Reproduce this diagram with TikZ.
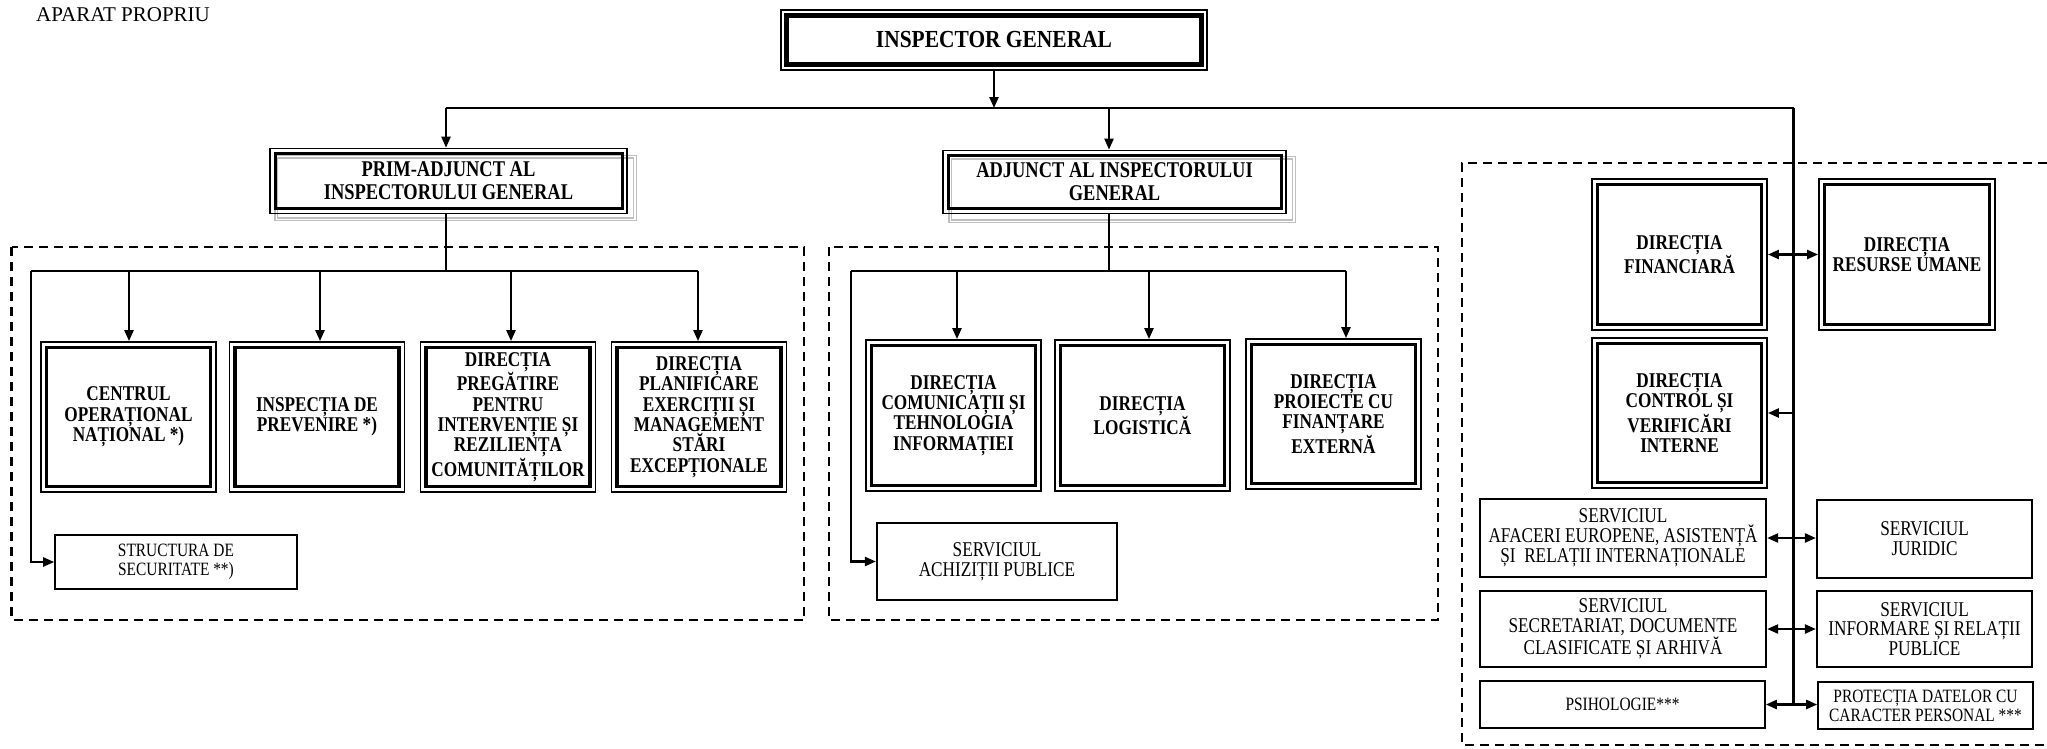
\documentclass[tikz,border=0pt]{standalone}
\usepackage{fontspec}
\setmainfont{Liberation Serif}
\newfontfamily\bxfam[FakeStretch=0.82]{Liberation Serif}
\newfontfamily\bxgfam[FakeStretch=0.875]{Liberation Serif}
\usetikzlibrary{arrows.meta,backgrounds}
\newcommand\myB{\bxfam\bfseries\fontsize{21}{20.3}\selectfont}
\newcommand\myT{\bxfam\bfseries\fontsize{22.5}{23}\selectfont}
\newcommand\myG{\bxgfam\bfseries\fontsize{24.5}{26}\selectfont}
\newcommand\myN{\bxfam\fontsize{21}{19.8}\selectfont}
\newcommand\myS{\bxfam\fontsize{18.8}{19}\selectfont}
\begin{document}
\begin{tikzpicture}[x=1pt,y=-1pt,
  every node/.style={inner sep=0pt, align=center},
  frame/.style n args={3}{draw, line width=#1,
    path picture={\draw[line width=#2]
      ([shift={(#3,-#3)}]path picture bounding box.north west) rectangle
      ([shift={(-#3,#3)}]path picture bounding box.south east);}},
  tbox/.style={frame={1.8}{3.2}{5.5pt}, font=\myB, minimum width=175pt, minimum height=150pt},
  sbox/.style={draw, line width=2.2, font=\myN},
  smallbox/.style={draw, line width=1.6, font=\myS},
  conn/.style={line width=2.3},
  arr/.style={conn, -{Triangle[length=11pt,width=9pt]}},
  darr/.style={conn, {Triangle[length=11pt,width=9pt]}-{Triangle[length=11pt,width=9pt]}},
  dashbox/.style={line width=2.4, dash pattern=on 9pt off 6pt},
  shd/.style={draw=gray!50, line width=1.3, double=white, double distance=1.3}
]
\begin{pgfonlayer}{background}
\fill[white] (0,0) rectangle (2047,748);
\end{pgfonlayer}
\useasboundingbox (0,0) rectangle (2047,748);

% dashed groups
\draw[dashbox] (11.5,247) rectangle (804,620);
\draw[dashbox] (829,247) rectangle (1438,620);
\draw[dashbox] (2047,163) -- (1462,163) -- (1462,745) -- (2047,745);

\node[anchor=base west, font=\fontsize{21}{21}\selectfont] (AP) at (36,21) {APARAT PROPRIU};

% top
\node[frame={1.5}{4.5}{5.5pt}, font=\myG, minimum width=426pt, minimum height=60pt] (IG) at (994,40) {INSPECTOR GENERAL};
\node[frame={1.7}{3}{5pt}, font=\myT, minimum width=357pt, minimum height=65pt] (PRIM) at (448.5,181) {PRIM-ADJUNCT AL\\INSPECTORULUI GENERAL};
\node[frame={1.7}{3}{5pt}, font=\myT, minimum width=343pt, minimum height=63pt] (ADJ) at (1114.5,182) {ADJUNCT AL INSPECTORULUI\\GENERAL};
\begin{pgfonlayer}{background}
\draw[shd] ([shift={(7,9)}]PRIM.north west) rectangle ([shift={(7,5)}]PRIM.south east);
\draw[shd] ([shift={(8,8)}]ADJ.north west) rectangle ([shift={(7,7)}]ADJ.south east);
\end{pgfonlayer}

% left group
\node[tbox] (L1) at (128.5,417) {CENTRUL\\OPERAȚIONAL\\NAȚIONAL *)};
\node[tbox] (L2) at (317,417) {INSPECȚIA DE\\PREVENIRE *)};
\node[tbox] (L3) at (508,417) {DIRECȚIA\\PREGĂTIRE\\PENTRU\\INTERVENȚIE ȘI\\REZILIENȚA\\COMUNITĂȚILOR};
\node[tbox] (L4) at (699,417) {DIRECȚIA\\PLANIFICARE\\EXERCIȚII ȘI\\MANAGEMENT\\STĂRI\\EXCEPȚIONALE};
\node[smallbox, minimum width=242pt, minimum height=54pt] (STR) at (176,562) {STRUCTURA DE\\SECURITATE **)};

% middle group
\node[tbox, minimum height=151pt] (M1) at (953.5,415.5) {DIRECȚIA\\COMUNICAȚII ȘI\\TEHNOLOGIA\\INFORMAȚIEI};
\node[tbox, minimum height=151pt] (M2) at (1142.5,415.5) {DIRECȚIA\\LOGISTICĂ};
\node[tbox] (M3) at (1333.5,414) {DIRECȚIA\\PROIECTE CU\\FINANȚARE\\EXTERNĂ};
\node[sbox, minimum width=240pt, minimum height=77pt] (ACH) at (997,561.5) {SERVICIUL\\ACHIZIȚII PUBLICE};

% right group
\node[tbox, minimum height=151pt] (FIN) at (1679.5,254.5) {DIRECȚIA\\FINANCIARĂ};
\node[tbox, minimum width=176pt, minimum height=151pt] (RU) at (1907,254.5) {DIRECȚIA\\RESURSE UMANE};
\node[tbox] (CTL) at (1679.5,413) {DIRECȚIA\\CONTROL ȘI\\VERIFICĂRI\\INTERNE};
\node[sbox, minimum width=286pt, minimum height=78pt] (AFE) at (1623,538) {SERVICIUL\\AFACERI EUROPENE, ASISTENȚĂ\\ȘI\ \ RELAȚII INTERNAȚIONALE};
\node[sbox, minimum width=215pt, minimum height=78pt] (JUR) at (1924.5,539) {SERVICIUL\\JURIDIC};
\node[sbox, minimum width=286pt, minimum height=76pt] (SEC) at (1623,629) {SERVICIUL\\SECRETARIAT, DOCUMENTE\\CLASIFICATE ȘI ARHIVĂ};
\node[sbox, minimum width=215pt, minimum height=76pt] (INF) at (1924.5,629) {SERVICIUL\\INFORMARE ȘI RELAȚII\\PUBLICE};
\node[smallbox, minimum width=285pt, minimum height=47pt] (PSI) at (1622.5,704.5) {PSIHOLOGIE***};
\node[smallbox, minimum width=215pt, minimum height=47pt] (PDP) at (1925.5,705.5) {PROTECȚIA DATELOR CU\\CARACTER PERSONAL ***};

% main bus
\coordinate (busL) at (446,108);
\coordinate (busR) at (1793.5,108);
\coordinate (ax) at (1109,108);
\draw[arr] (IG.south) -- (IG.south |- busL);
\draw[conn] (busL) -- (busR);
\draw[arr] (busL) -- (busL |- PRIM.north);
\draw[arr] (ax) -- (ax |- ADJ.north);

% left bus
\coordinate (lb0) at (31,271);
\coordinate (lb1) at (129,271);
\coordinate (lb2) at (320,271);
\coordinate (lb3) at (511,271);
\coordinate (lb4) at (698,271);
\draw[conn] (busL |- PRIM.south) -- (busL |- lb0);
\draw[conn] (lb0) -- (lb4);
\draw[arr] (lb1) -- (lb1 |- L1.north);
\draw[arr] (lb2) -- (lb2 |- L2.north);
\draw[arr] (lb3) -- (lb3 |- L3.north);
\draw[arr] (lb4) -- (lb4 |- L4.north);
\draw[arr] (lb0) |- (STR.west);

% middle bus
\coordinate (mb0) at (851,271);
\coordinate (mb1) at (957,271);
\coordinate (mb2) at (1149,271);
\coordinate (mb3) at (1346,271);
\draw[conn] (ax |- ADJ.south) -- (ax |- mb0);
\draw[conn] (mb0) -- (mb3);
\draw[arr] (mb1) -- (mb1 |- M1.north);
\draw[arr] (mb2) -- (mb2 |- M2.north);
\draw[arr] (mb3) -- (mb3 |- M3.north);
\draw[arr] (mb0) |- (ACH.west);

% right column
\coordinate (vend) at (busR |- PSI.east);
\draw[conn] (busR) -- (vend);
\draw[darr] (FIN.east) -- (RU.west);
\draw[arr] (busR |- CTL.east) -- (CTL.east);
\draw[darr] (AFE.east) -- (AFE.east -| JUR.west);
\draw[darr] (SEC.east) -- (SEC.east -| INF.west);
\draw[darr] (PSI.east) -- (PSI.east -| PDP.west);
\end{tikzpicture}
\end{document}
